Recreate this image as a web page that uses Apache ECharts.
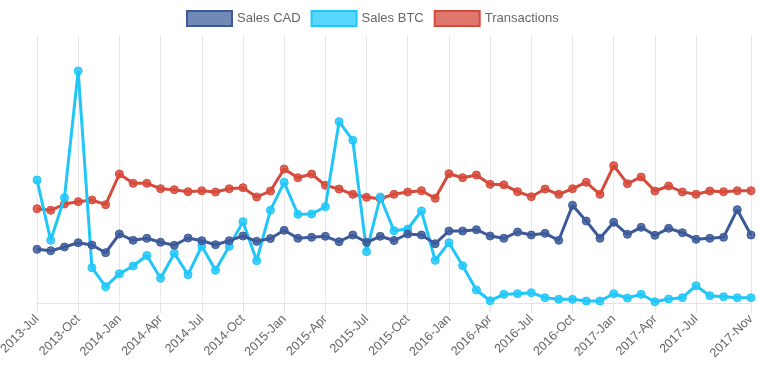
<!DOCTYPE html>
<html>
<head>
<meta charset="utf-8">
<script src="https://cdn.jsdelivr.net/npm/echarts@6/dist/echarts.min.js"></script>
<style>
html,body{margin:0;padding:0;background:#fff;}
#chart{width:759px;height:379px;}
</style>
</head>
<body>
<div id="chart"></div>
<script>
const categories = [
  "2013-Jul","2013-Aug","2013-Sep","2013-Oct","2013-Nov","2013-Dec",
  "2014-Jan","2014-Feb","2014-Mar","2014-Apr","2014-May","2014-Jun","2014-Jul","2014-Aug","2014-Sep","2014-Oct","2014-Nov","2014-Dec",
  "2015-Jan","2015-Feb","2015-Mar","2015-Apr","2015-May","2015-Jun","2015-Jul","2015-Aug","2015-Sep","2015-Oct","2015-Nov","2015-Dec",
  "2016-Jan","2016-Feb","2016-Mar","2016-Apr","2016-May","2016-Jun","2016-Jul","2016-Aug","2016-Sep","2016-Oct","2016-Nov","2016-Dec",
  "2017-Jan","2017-Feb","2017-Mar","2017-Apr","2017-May","2017-Jun","2017-Jul","2017-Aug","2017-Sep","2017-Oct","2017-Nov"
];
const tickLabels = [
  "2013-Jul","2013-Oct","2014-Jan","2014-Apr","2014-Jul","2014-Oct","2015-Jan","2015-Apr","2015-Jul","2015-Oct",
  "2016-Jan","2016-Apr","2016-Jul","2016-Oct","2017-Jan","2017-Apr","2017-Jul","2017-Nov"
];
const salesCAD = [53.7,52.3,56,60.3,58,50.3,69,62.7,64.7,60.7,57.7,65,62.3,58.3,62.3,67,61.7,64.5,72.7,64.7,65.7,66.7,61.3,68,60.7,66.7,62.5,69,68,59.3,72,72,73.3,67,64.7,71,68,69.7,62.7,97.7,82,64.7,80.7,68.7,75.7,67.7,74.7,70.3,63.7,64.7,65.7,93.3,68];
const salesBTC = [123,62.7,105.3,232,35.3,16.3,29.3,37,47.5,24.7,49.7,28.3,57,32.7,56.7,81.3,42.3,92.8,120.7,88.7,89,96.3,181.3,162.7,51.3,106,72.3,74,92,42.7,60.3,37.3,13,2.3,8.7,9.3,10.3,5.3,3.7,3.7,2,2,9.3,5,8.7,1.3,4,5.3,17.3,7.3,6.3,5.3,5.3];
const transactions = [94.3,92.7,99,101.3,103,98.3,129,119.7,119.7,114.3,113.3,111.3,112.3,111,114.3,115.3,106,112,134,125.3,129,117.7,114,108.7,105.7,104.3,108.7,111,112.3,104.7,129.3,125.3,128,118.7,118.2,111.3,106.3,114,108.7,114.3,120.7,108.7,137.3,119.3,126,112,117,111,108.7,112,111.3,112.3,112.3];

const FONT = '"Liberation Sans", Arial, Helvetica, sans-serif';
const showTick = (idx) => tickLabels.indexOf(categories[idx]) !== -1;

function mkSeries(name, data, color, fill, z) {
  return {
    name, type: 'line', data, z,
    symbol: 'circle', symbolSize: 8,
    lineStyle: { color, width: 3 },
    itemStyle: { color: fill, borderColor: color, borderWidth: 1 },
    emphasis: { disabled: true },
    animation: false
  };
}

const chart = echarts.init(document.getElementById('chart'), null, { renderer: 'canvas' });
chart.setOption({
  backgroundColor: '#fff',
  animation: false,
  legend: {
    top: 10, left: 186, padding: 0,
    itemWidth: 45, itemHeight: 15, itemGap: 10,
    textStyle: { color: '#666', fontSize: 13, fontFamily: FONT },
    data: [
      { name: 'Sales CAD', icon: 'rect', itemStyle: { color: 'rgba(60,90,154,0.72)', borderColor: '#3c5a9a', borderWidth: 2 } },
      { name: 'Sales BTC', icon: 'rect', itemStyle: { color: 'rgba(33,200,251,0.75)', borderColor: '#21c6f9', borderWidth: 2 } },
      { name: 'Transactions', icon: 'rect', itemStyle: { color: 'rgba(214,74,59,0.75)', borderColor: '#d64a3b', borderWidth: 2 } }
    ]
  },
  grid: { left: 37, right: 8, top: 35, bottom: 76, containLabel: false, outerBoundsMode: 'none' },
  xAxis: {
    type: 'category', data: categories, boundaryGap: false,
    axisLine: { show: true, lineStyle: { color: '#e4e4e4', width: 1 } },
    axisTick: { show: true, interval: showTick, length: 10, lineStyle: { color: '#e4e4e4' } },
    splitLine: { show: true, interval: showTick, lineStyle: { color: '#e8e8e8', width: 1 } },
    axisLabel: {
      interval: showTick, rotate: 45, margin: 14, hideOverlap: false,
      color: '#666', fontSize: 12.6, fontFamily: FONT
    }
  },
  yAxis: {
    type: 'value', min: 0, max: 268, show: false,
    splitLine: { show: false }
  },
  series: [
    mkSeries('Sales CAD', salesCAD, '#3c5a9a', 'rgba(60,90,154,0.85)', 5),
    mkSeries('Sales BTC', salesBTC, '#21c6f9', 'rgba(33,200,251,0.85)', 4),
    mkSeries('Transactions', transactions, '#d64a3b', 'rgba(214,74,59,0.85)', 3)
  ]
});
</script>
</body>
</html>
